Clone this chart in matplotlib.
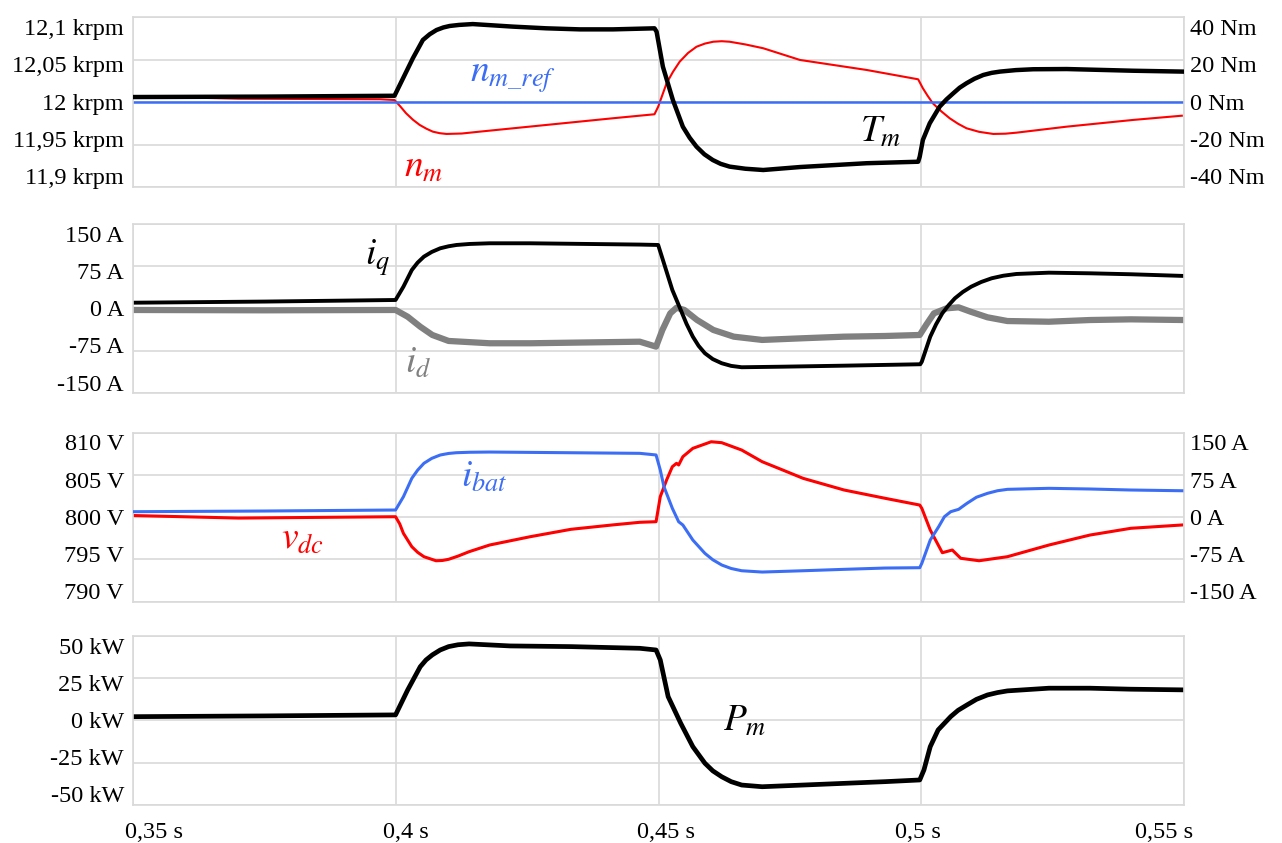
import matplotlib
matplotlib.use("Agg")
import matplotlib.pyplot as plt

plt.rcParams['font.family'] = ['Liberation Serif', 'DejaVu Serif']
plt.rcParams['mathtext.fontset'] = 'stix'

# --- speed / torque panel ---
t_ref = [0.35, 0.55]
n_ref = [12.0, 12.0]

t_nm = [0.35, 0.37, 0.3969, 0.3997, 0.4008, 0.4019, 0.4032, 0.4045, 0.4058, 0.4070,
        0.4083, 0.4096, 0.4125, 0.4159, 0.4286, 0.4413, 0.4492, 0.4499, 0.4515, 0.4527,
        0.4540, 0.4556, 0.4572, 0.4588, 0.4604, 0.4620, 0.4635, 0.4665, 0.4699, 0.4769,
        0.4896, 0.4994, 0.5003, 0.5012, 0.5022, 0.5038, 0.5054, 0.5070, 0.5086, 0.5110,
        0.5137, 0.5160, 0.5181, 0.5277, 0.5403, 0.5496]
n_m = [12.007, 12.004, 12.0034, 12.0025, 11.9950, 11.9869, 11.9793, 11.9731, 11.9686, 11.9652,
       11.9634, 11.9625, 11.9630, 11.9652, 11.9731, 11.9810, 11.9857, 11.9946, 12.0222, 12.0355,
       12.0477, 12.0580, 12.0653, 12.0690, 12.0712, 12.0718, 12.0712, 12.0680, 12.0635, 12.0497,
       12.0379, 12.0269, 12.0163, 12.0075, 11.9986, 11.9892, 11.9810, 11.9745, 11.9692, 11.9650,
       11.9625, 11.9628, 11.9640, 11.9711, 11.9790, 11.9840]

t_tm = [0.35, 0.375, 0.3997, 0.4032, 0.4051, 0.4064, 0.4077, 0.4090, 0.4102, 0.4120,
        0.4146, 0.4222, 0.4286, 0.4350, 0.4413, 0.4492, 0.4496, 0.4508, 0.4527, 0.4546,
        0.4559, 0.4572, 0.4587, 0.4603, 0.4618, 0.4635, 0.4665, 0.4699, 0.4769, 0.4896,
        0.4994, 0.4997, 0.5003, 0.5016, 0.5035, 0.5048, 0.5061, 0.5073, 0.5086, 0.5101,
        0.5118, 0.5134, 0.5150, 0.5180, 0.5213, 0.5277, 0.5340, 0.5403, 0.5496]
T_m = [2.4, 2.6, 3.0, 20.7, 29.3, 32.0, 34.0, 35.2, 35.9, 36.4,
       36.8, 35.6, 34.8, 34.3, 34.3, 34.8, 33.2, 16.7, 1.0, -11.6,
       -16.8, -21.0, -24.6, -27.3, -29.1, -30.4, -31.4, -32.0, -30.6, -28.8,
       -28.1, -25.7, -17.8, -10.0, -2.1, 1.3, 4.2, 6.8, 8.9, 11.0,
       12.8, 13.8, 14.4, 15.1, 15.5, 15.6, 15.2, 14.8, 14.4]

# --- dq currents panel ---
t_iq = [0.35, 0.375, 0.3999, 0.4014, 0.4030, 0.4041, 0.4053, 0.4068, 0.4084, 0.4100,
        0.4115, 0.4140, 0.4178, 0.4255, 0.4464, 0.4499, 0.4510, 0.4526, 0.4542, 0.4553,
        0.4565, 0.4576, 0.4588, 0.4603, 0.4620, 0.4638, 0.4658, 0.4736, 0.4853, 0.4998,
        0.5001, 0.5017, 0.5028, 0.5040, 0.5052, 0.5064, 0.5079, 0.5095, 0.5114, 0.5134,
        0.5156, 0.5181, 0.5243, 0.5321, 0.5399, 0.5500]
i_q = [10.5, 12.5, 15.3, 38.9, 68.5, 81.5, 92.1, 100.5, 106.9, 110.5,
       112.8, 114.6, 115.8, 115.8, 113.5, 112.8, 80.4, 33.0, -2.4, -27.0,
       -49.7, -66.0, -79.1, -89.5, -96.8, -101.5, -103.9, -102.9, -101.1, -98.6,
       -94.0, -49.7, -28.0, -8.2, 6.0, 18.3, 29.5, 38.9, 47.2, 53.8,
       58.3, 61.4, 63.7, 62.6, 60.9, 57.9]

t_id = [0.35, 0.375, 0.3999, 0.4022, 0.4046, 0.4069, 0.4100, 0.4178, 0.4256, 0.4464,
        0.4495, 0.4507, 0.4522, 0.4534, 0.4549, 0.4573, 0.4604, 0.4643, 0.4697, 0.4775,
        0.4853, 0.4931, 0.4997, 0.5009, 0.5024, 0.5048, 0.5071, 0.5094, 0.5126, 0.5164,
        0.5243, 0.5321, 0.5399, 0.5500]
i_d = [-2.4, -3.0, -2.4, -14.3, -32.0, -46.7, -57.3, -61.4, -61.4, -58.6,
       -67.4, -37.9, -8.4, 1.6, -2.4, -20.1, -37.8, -49.7, -55.5, -52.5,
       -49.7, -48.5, -46.7, -29.1, -8.4, 0.5, 2.3, -5.5, -15.4, -22.0,
       -23.2, -20.2, -19.0, -20.2]

# --- DC link panel ---
t_vdc = [0.35, 0.37, 0.3999, 0.4007, 0.4014, 0.4030, 0.4041, 0.4053, 0.4076, 0.4088,
         0.4100, 0.4118, 0.4139, 0.4178, 0.4255, 0.4333, 0.4411, 0.4464, 0.4495, 0.4503,
         0.4515, 0.4526, 0.4534, 0.4538, 0.4546, 0.4565, 0.4600, 0.4620, 0.4658, 0.4697,
         0.4736, 0.4775, 0.4853, 0.4931, 0.4997, 0.5001, 0.5017, 0.5040, 0.5059, 0.5075,
         0.5110, 0.5164, 0.5243, 0.5321, 0.5399, 0.5496]
v_dc = [800.2, 799.9, 800.06, 799.2, 798.09, 796.51, 795.85, 795.33, 794.85, 794.88,
        795.02, 795.4, 795.92, 796.71, 797.69, 798.57, 799.08, 799.40, 799.47, 802.43,
        804.40, 805.98, 806.38, 806.18, 807.16, 808.15, 808.93, 808.82, 807.95, 806.57,
        805.59, 804.60, 803.22, 802.24, 801.44, 801.05, 798.49, 795.80, 796.12, 795.14,
        794.85, 795.33, 796.71, 797.89, 798.69, 799.08]

t_ibat = [0.35, 0.375, 0.3999, 0.4014, 0.4030, 0.4041, 0.4053, 0.4068, 0.4084, 0.4100,
          0.4115, 0.4140, 0.4178, 0.4464, 0.4495, 0.4503, 0.4510, 0.4526, 0.4538, 0.4546,
          0.4565, 0.4588, 0.4603, 0.4620, 0.4638, 0.4658, 0.4697, 0.4775, 0.4853, 0.4931,
          0.4997, 0.5001, 0.5017, 0.5033, 0.5044, 0.5056, 0.5071, 0.5087, 0.5105, 0.5126,
          0.5145, 0.5164, 0.5243, 0.5321, 0.5399, 0.5496]
i_bat = [9.8, 11.0, 12.8, 36.4, 69.1, 83.5, 95.7, 104.5, 110.4, 113.2,
         114.5, 115.3, 115.7, 113.4, 110.5, 83.9, 54.2, 15.8, -8.0, -13.8,
         -40.5, -64.1, -75.5, -84.8, -91.0, -95.0, -97.3, -95.0, -92.5, -90.2,
         -89.6, -81.8, -40.5, -16.9, 0.9, 9.8, 14.0, 24.7, 35.5, 42.4,
         47.0, 49.5, 51.3, 50.1, 48.3, 47.0]

# --- mechanical power panel ---
t_pm = [0.35, 0.375, 0.3999, 0.4022, 0.4046, 0.4057, 0.4069, 0.4084, 0.4100, 0.4118,
        0.4139, 0.4217, 0.4333, 0.4464, 0.4495, 0.4503, 0.4518, 0.4542, 0.4565, 0.4588,
        0.4603, 0.4620, 0.4638, 0.4658, 0.4697, 0.4775, 0.4853, 0.4931, 0.4997, 0.5005,
        0.5017, 0.5032, 0.5056, 0.5070, 0.5087, 0.5105, 0.5126, 0.5145, 0.5164, 0.5243,
        0.5321, 0.5399, 0.5500]
P_m = [2.25, 2.7, 3.3, 18.0, 31.8, 35.8, 38.8, 41.7, 43.7, 44.8,
       45.3, 44.1, 43.7, 42.7, 41.7, 35.8, 14.1, -1.7, -15.5, -25.3,
       -29.8, -33.3, -36.2, -38.2, -39.2, -38.2, -37.2, -36.2, -35.2, -29.3,
       -15.5, -5.6, 2.3, 6.0, 9.2, 12.5, 15.1, 16.5, 17.5, 19.1,
       19.1, 18.5, 18.1]

x_ticks = [0.35, 0.4, 0.45, 0.5, 0.55]
x_labels = ['0,35 s', '0,4 s', '0,45 s', '0,5 s', '0,55 s']
x_label_pos = [0.0195, 0.2595, 0.507, 0.747, 0.981]

speed_ticks = [11.9, 11.95, 12.0, 12.05, 12.1]
speed_labels = ['11,9 krpm', '11,95 krpm', '12 krpm', '12,05 krpm', '12,1 krpm']
torque_labels = ['-40 Nm', '-20 Nm', '0 Nm', '20 Nm', '40 Nm']
current_ticks = [-150, -75, 0, 75, 150]
current_labels = ['-150 A', '-75 A', '0 A', '75 A', '150 A']
voltage_ticks = [790, 795, 800, 805, 810]
voltage_labels = ['790 V', '795 V', '800 V', '805 V', '810 V']
power_ticks = [-50, -25, 0, 25, 50]
power_labels = ['-50 kW', '-25 kW', '0 kW', '25 kW', '50 kW']

RED = '#ff0000'
BLUE = '#3c6ef5'
GREY = '#808080'
GRID = '#d9d9d9'
FS = 17.5
LFS = 27


def frame(ax, yticks):
    ax.set_xlim(0.35, 0.55)
    ax.set_ylim(yticks[0], yticks[-1])
    ax.set_xticks(x_ticks)
    ax.set_yticks(yticks)
    ax.tick_params(length=0, labelbottom=False, labelleft=False)
    ax.grid(True, color=GRID, linewidth=1.2)
    ax.set_axisbelow(True)
    for s in ax.spines.values():
        s.set_color(GRID)
        s.set_linewidth(1.2)


def side_labels(ax, labels, side='left'):
    x = -0.009 if side == 'left' else 1.006
    ha = 'right' if side == 'left' else 'left'
    for i, lab in enumerate(labels):
        ax.text(x, 0.048 + 0.22 * i, lab, transform=ax.transAxes,
                ha=ha, va='center', fontsize=FS)


def right_axis(ax, lo, hi):
    axr = ax.twinx()
    axr.set_ylim(lo, hi)
    axr.set_yticks([])
    for s in axr.spines.values():
        s.set_visible(False)
    return axr


fig = plt.figure(figsize=(12.82, 8.43), dpi=100)
left, width = 0.1041, 0.8194
ax1 = fig.add_axes([left, 0.7782, width, 0.2013])
ax2 = fig.add_axes([left, 0.5335, width, 0.2008])
ax3 = fig.add_axes([left, 0.2862, width, 0.2005])
ax4 = fig.add_axes([left, 0.0451, width, 0.2005])

# speed and torque
frame(ax1, speed_ticks)
ax1.plot(t_nm, n_m, color=RED, lw=1.5)
ax1.plot(t_ref, n_ref, color=BLUE, lw=1.8)
ax1b = right_axis(ax1, -40, 40)
ax1b.plot(t_tm, T_m, color='black', lw=3.2, solid_joinstyle='round')
side_labels(ax1, speed_labels)
side_labels(ax1, torque_labels, 'right')
ax1.text(0.361, 0.642, r'$n_{m\_ref}$', transform=ax1.transAxes, color=BLUE,
         fontsize=LFS, ha='center', va='center')
ax1.text(0.276, 0.112, r'$n_m$', transform=ax1.transAxes, color=RED,
         fontsize=LFS, ha='center', va='center')
ax1b.text(0.711, 0.318, r'$T_m$', transform=ax1.transAxes, color='black',
          fontsize=LFS, ha='center', va='center')

# dq currents
frame(ax2, current_ticks)
ax2.plot(t_id, i_d, color=GREY, lw=4.5, solid_joinstyle='round')
ax2.plot(t_iq, i_q, color='black', lw=2.8, solid_joinstyle='round')
side_labels(ax2, current_labels)
ax2.text(0.232, 0.799, r'$i_q$', transform=ax2.transAxes, color='black',
         fontsize=LFS, ha='center', va='center')
ax2.text(0.271, 0.173, r'$i_d$', transform=ax2.transAxes, color=GREY,
         fontsize=LFS, ha='center', va='center')

# DC link voltage and battery current
frame(ax3, voltage_ticks)
ax3.plot(t_vdc, v_dc, color=RED, lw=2.2, solid_joinstyle='round')
ax3b = right_axis(ax3, -150, 150)
ax3b.plot(t_ibat, i_bat, color=BLUE, lw=2.2, solid_joinstyle='round')
side_labels(ax3, voltage_labels)
side_labels(ax3, current_labels, 'right')
ax3.text(0.334, 0.732, r'$i_{bat}$', transform=ax3.transAxes, color=BLUE,
         fontsize=LFS, ha='center', va='center', zorder=5)
ax3.text(0.161, 0.365, r'$v_{dc}$', transform=ax3.transAxes, color=RED,
         fontsize=LFS, ha='center', va='center')

# mechanical power
frame(ax4, power_ticks)
ax4.plot(t_pm, P_m, color='black', lw=3.4, solid_joinstyle='round')
side_labels(ax4, power_labels)
ax4.text(0.582, 0.491, r'$P_m$', transform=ax4.transAxes, color='black',
         fontsize=LFS, ha='center', va='center')
for pos, lab in zip(x_label_pos, x_labels):
    ax4.text(pos, -0.165, lab, transform=ax4.transAxes, ha='center', va='center',
             fontsize=FS)

fig.savefig('out.png', dpi=100)
